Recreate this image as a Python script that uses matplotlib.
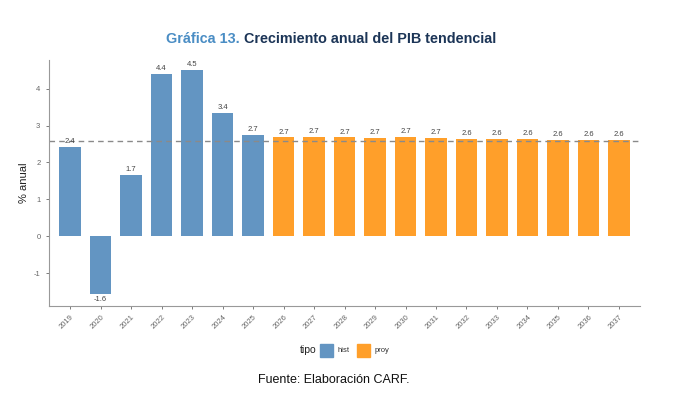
import matplotlib.pyplot as plt
from matplotlib.patches import Rectangle

plt.rcParams["font.family"] = ["Liberation Sans", "DejaVu Sans"]
plt.rcParams["axes.unicode_minus"] = False

# datos
anios = [str(a) for a in range(2019, 2038)]
valores = [2.43, -1.58, 1.67, 4.39, 4.52, 3.35, 2.74, 2.68, 2.69, 2.68, 2.67,
           2.70, 2.67, 2.64, 2.63, 2.63, 2.61, 2.62, 2.61]
tipo = ["hist"] * 7 + ["proy"] * 12
promedio = 2.57

colores = {"hist": "#6395C2", "proy": "#FF9F2A"}

fig = plt.figure(figsize=(6.96, 4.11), dpi=100)
ax = fig.add_axes([0.070, 0.255, 0.850, 0.600])

x = list(range(len(anios)))
ax.bar(x, valores, width=0.7, color=[colores[t] for t in tipo])
ax.axhline(promedio, color="#8a8a8a", linestyle=(0, (4, 3)), linewidth=1)

for xi, v in zip(x, valores):
    if v >= 0:
        ax.text(xi, v + 0.05, f"{v:.1f}", ha="center", va="bottom", fontsize=5.5, color="#444444")
    else:
        ax.text(xi, v - 0.05, f"{v:.1f}", ha="center", va="top", fontsize=5.5, color="#444444")

ax.set_xlim(-0.7, len(anios) - 0.3)
ax.set_ylim(-1.9, 4.79)
ax.set_yticks([-1, 0, 1, 2, 3, 4])
ax.set_xticks(x)
ax.set_xticklabels(anios, rotation=45, ha="right", rotation_mode="anchor")
ax.tick_params(axis="both", labelsize=5.5, colors="#666666", length=2.5, width=0.6)
ax.tick_params(axis="x", pad=3)
for s in ["top", "right"]:
    ax.spines[s].set_visible(False)
for s in ["left", "bottom"]:
    ax.spines[s].set_color("#999999")
    ax.spines[s].set_linewidth(0.8)
ax.set_ylabel("% anual", fontsize=8, color="#222222", labelpad=3)

# titulo en dos colores
t1 = fig.text(0.239, 0.905, "Gráfica 13.", ha="left", va="center", fontsize=10.4,
              fontweight="bold", color="#4A8DC4")
fig.canvas.draw()
bb = t1.get_window_extent()
x2 = (bb.x1 + 4) / fig.bbox.width
fig.text(x2, 0.905, "Crecimiento anual del PIB tendencial", ha="left", va="center",
         fontsize=10.4, fontweight="bold", color="#1C3557")

# leyenda manual
ly = 1 - 350 / 411
fig.text(300 / 696, ly, "tipo", ha="left", va="center", fontsize=7.5, color="#222222")
w, h = 13 / 696, 13 / 411
fig.add_artist(Rectangle((320 / 696, ly - h / 2), w, h, transform=fig.transFigure,
                         color=colores["hist"]))
fig.text(338 / 696, ly, "hist", ha="left", va="center", fontsize=5.5, color="#333333")
fig.add_artist(Rectangle((357 / 696, ly - h / 2), w, h, transform=fig.transFigure,
                         color=colores["proy"]))
fig.text(375 / 696, ly, "proy", ha="left", va="center", fontsize=5.5, color="#333333")

fig.text(0.479, 1 - 380 / 411, "Fuente: Elaboración CARF.", ha="center", va="center",
         fontsize=9, color="#111111")

fig.savefig("out.png", dpi=100)
